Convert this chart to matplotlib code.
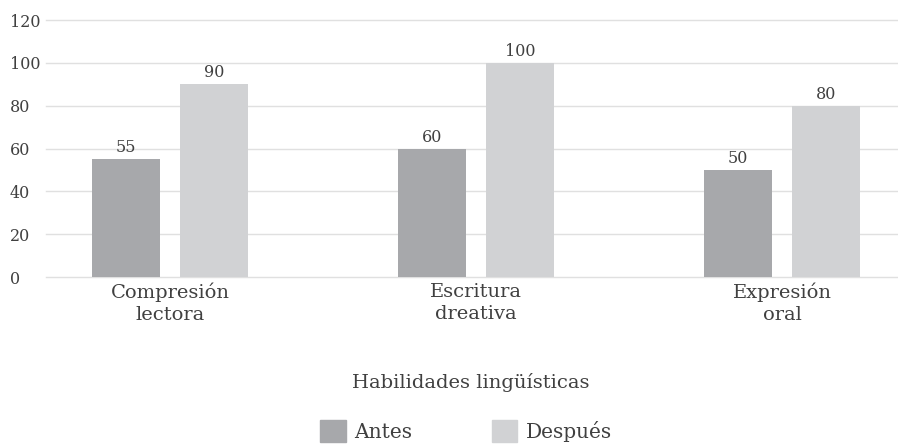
import matplotlib
matplotlib.use("Agg")
import matplotlib.pyplot as plt
import numpy as np
from matplotlib.patches import Patch

categories = ["Compresión\nlectora", "Escritura\ndreativa", "Expresión\noral"]
antes = [55, 60, 50]
despues = [90, 100, 80]
series_names = ["Antes", "Después"]
yticks = [0, 20, 40, 60, 80, 100, 120]

c_antes = "#a7a8ab"
c_desp = "#d1d2d4"
txt = "#404040"

plt.rcParams['font.family'] = ['DejaVu Serif']

fig = plt.figure(figsize=(8.98, 4.44), dpi=100)
ax = fig.add_axes([46/898, 1 - 277/444, (898-46)/898, (277-20)/444])

x = np.arange(len(categories))
w = 0.225
off = 0.1438
b1 = ax.bar(x - off, antes, w, color=c_antes, zorder=3)
b2 = ax.bar(x + off, despues, w, color=c_desp, zorder=3)

for bars, vals in ((b1, antes), (b2, despues)):
    for r, v in zip(bars, vals):
        ax.text(r.get_x() + r.get_width()/2, v + 1.3, str(v), ha='center', va='bottom',
                fontsize=11.5, color=txt)

ax.set_xlim(-0.405, 2.379)
ax.set_ylim(0, 120)
ax.set_yticks(yticks)
ax.set_yticklabels([str(t) for t in yticks], fontsize=11.5, color=txt)
for lbl in ax.get_yticklabels():
    lbl.set_horizontalalignment('left')
ax.set_xticks(x)
ax.set_xticklabels(categories, fontsize=14, color=txt, linespacing=1.3)
ax.tick_params(axis='both', length=0)
ax.tick_params(axis='y', pad=26)
ax.tick_params(axis='x', pad=4)
ax.yaxis.grid(True, color="#e0e0e0", linewidth=1, zorder=0)
for gl in ax.get_ygridlines():
    gl.set_clip_on(False)
for s in ax.spines.values():
    s.set_visible(False)

fig.text(471/898, 1 - 382/444, "Habilidades lingüísticas", ha='center', va='center',
         fontsize=14, color=txt)

handles = [Patch(color=c_antes), Patch(color=c_desp)]
fig.legend(handles, series_names, loc='center', bbox_to_anchor=(466/898, 1 - 431/444),
           ncol=2, frameon=False, fontsize=14.5, handlelength=1.25, handleheight=1.25,
           handletextpad=0.4, columnspacing=4.0, labelcolor=txt,
           borderpad=0, borderaxespad=0)

fig.savefig("out.png", dpi=100)
